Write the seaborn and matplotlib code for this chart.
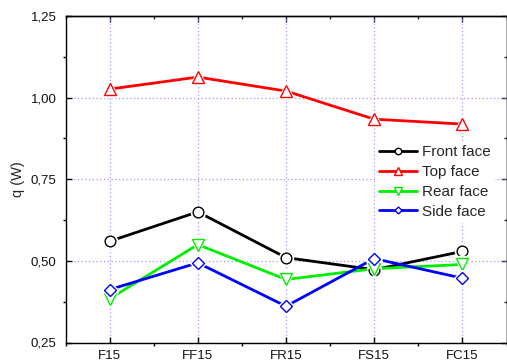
import matplotlib
matplotlib.use("Agg")
import matplotlib.pyplot as plt
import seaborn as sns
import pandas as pd
from matplotlib.ticker import MultipleLocator, FuncFormatter

# ---- data ----
categories = ["F15", "FF15", "FR15", "FS15", "FC15"]
front_face = [0.560, 0.650, 0.510, 0.473, 0.529]
top_face = [1.026, 1.063, 1.020, 0.934, 0.919]
rear_face = [0.384, 0.550, 0.443, 0.476, 0.489]
side_face = [0.412, 0.494, 0.361, 0.507, 0.447]
series_names = ["Front face", "Top face", "Rear face", "Side face"]
y_label = "q (W)"

series_values = [front_face, top_face, rear_face, side_face]
colors = ["#000000", "#ff0000", "#00ee00", "#0000ff"]
markers = ["o", "^", "v", "D"]
msizes = [7.7, 8.8, 8.8, 5.9]

sns.set_theme(style="white")
plt.rcParams["font.family"] = ["Liberation Sans", "DejaVu Sans"]

W, H = 507, 363
fig = plt.figure(figsize=(W / 100, H / 100), dpi=100)
L, R, T, B = 65.5, 506.5, 16, 342.5
ax = fig.add_axes([L / W, 1 - B / H, (R - L) / W, (B - T) / H])

for i, (name, vals) in enumerate(zip(series_names, series_values)):
    df = pd.DataFrame({"category": categories, "q": vals})
    c = colors[i]
    sns.lineplot(data=df, x="category", y="q", ax=ax, sort=False, color=c,
                 linewidth=2.0, marker=markers[i], markersize=msizes[i],
                 markerfacecolor="white", markeredgecolor=c,
                 markeredgewidth=1.0, label=name, zorder=2)
    # white halo so the line stops short of the marker (Origin style)
    ax.plot(df["category"], df["q"], linestyle="none", marker=markers[i],
            markersize=msizes[i] + 2.5, markerfacecolor="white",
            markeredgecolor="white", zorder=3 + i * 0.1)
    ax.plot(df["category"], df["q"], linestyle="none", marker=markers[i],
            markersize=msizes[i], markerfacecolor="white",
            markeredgecolor=c, markeredgewidth=1.0, zorder=3.05 + i * 0.1)

ax.set_xlim(-0.5, 4.5)
ax.set_ylim(0.25, 1.25)
ax.yaxis.set_major_locator(MultipleLocator(0.25))
ax.yaxis.set_minor_locator(MultipleLocator(0.125))
ax.xaxis.set_minor_locator(MultipleLocator(0.5))
ax.yaxis.set_major_formatter(FuncFormatter(lambda v, p: f"{v:.2f}".replace(".", ",")))

ax.set_xlabel("")
ax.set_ylabel(y_label, fontsize=10.5, labelpad=4)

ax.grid(True, which="major", color="#9a9aff", linestyle=(0, (1, 2)), linewidth=0.9)
ax.set_axisbelow(True)

for s in ax.spines.values():
    s.set_color("black")
    s.set_linewidth(1.0)
    s.set_visible(True)

# Origin style: major ticks inward, minor ticks outward on left/bottom
ax.tick_params(which="major", direction="in", length=4.0, width=1.0, color="black",
               labelsize=9.5, labelcolor="#111111", left=True, bottom=True)
ax.tick_params(which="minor", direction="out", length=2.3, width=1.0, color="black",
               left=True, bottom=True)
ax.tick_params(axis="x", which="major", pad=5.3)
ax.tick_params(axis="y", which="major", pad=6.5)

# mirrored inward ticks on top and right
secx = ax.secondary_xaxis("top")
secx.xaxis.set_major_locator(MultipleLocator(1))
secx.xaxis.set_minor_locator(MultipleLocator(0.5))
secx.tick_params(which="major", direction="in", length=4.0, width=1.0, labeltop=False)
secx.tick_params(which="minor", direction="in", length=2.3, width=1.0)
secx.spines["top"].set_linewidth(1.0)
secy = ax.secondary_yaxis("right")
secy.yaxis.set_major_locator(MultipleLocator(0.25))
secy.yaxis.set_minor_locator(MultipleLocator(0.125))
secy.tick_params(which="major", direction="in", length=4.0, width=1.0, labelright=False)
secy.tick_params(which="minor", direction="in", length=2.3, width=1.0)
secy.spines["right"].set_linewidth(1.0)

handles, labels = ax.get_legend_handles_labels()
leg = ax.legend(handles, labels, loc="center left",
                bbox_to_anchor=(375 / W, 1 - 182 / H), bbox_transform=fig.transFigure,
                fontsize=11, frameon=True, facecolor="white", edgecolor="none",
                framealpha=1, borderpad=0.25, handlelength=2.5, handletextpad=0.35,
                labelspacing=0.38, borderaxespad=0)
for h in leg.legend_handles:
    h.set_markersize(h.get_markersize() * 0.6)
leg.set_zorder(10)

fig.savefig("out.png", dpi=100)
